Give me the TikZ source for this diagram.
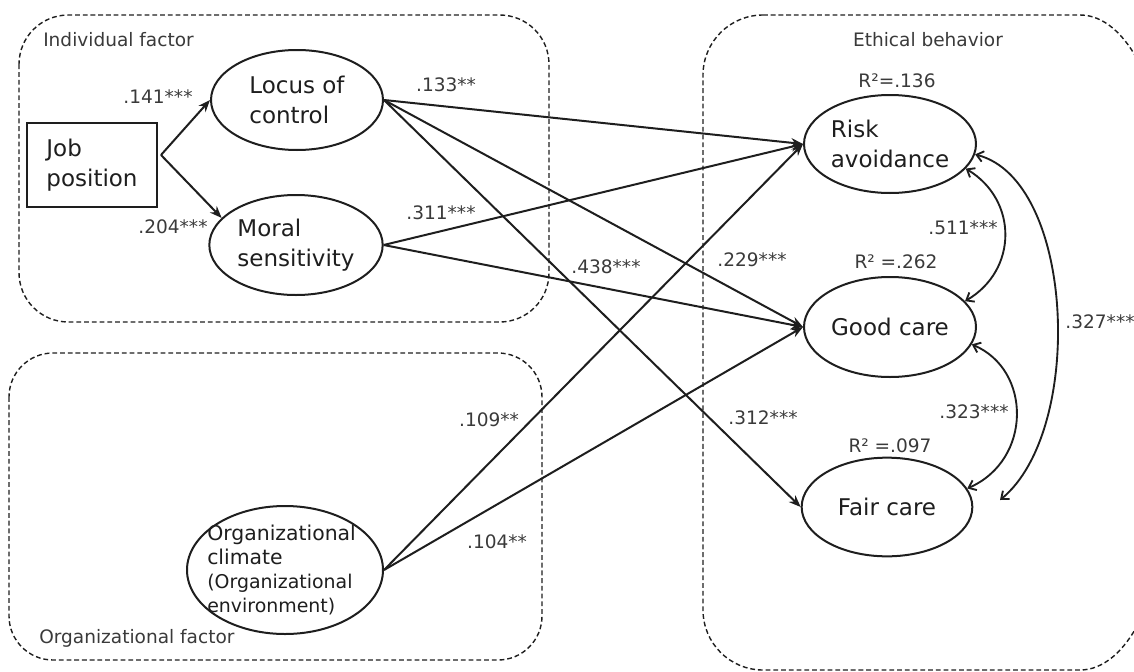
\documentclass[tikz,border=0pt]{standalone}
\usepackage{fontspec}
\setmainfont{DejaVu Sans}
\usetikzlibrary{arrows.meta,shapes.geometric,calc}
\definecolor{lab}{HTML}{3A3A3A}
\definecolor{ink}{HTML}{1E1E1E}
\begin{document}
\begin{tikzpicture}[x=0.75pt,y=-0.75pt,
  grp/.style={draw=ink, line width=1.05pt, dash pattern=on 3.6pt off 2.2pt},
  ell/.style={draw=ink, line width=1.5pt, ellipse, inner sep=0pt, align=left,
    text=ink, font=\fontsize{17.25}{22.5}\selectfont},
  boxnode/.style={draw=ink, line width=1.5pt, rectangle, inner sep=0pt, align=left,
    text=ink, font=\fontsize{17.25}{22.5}\selectfont},
  num/.style={text=lab, inner sep=0pt, font=\fontsize{13.9}{16}\selectfont},
  grplab/.style={text=lab, inner sep=0pt, font=\fontsize{13.9}{16}\selectfont},
  path/.style={draw=ink, line width=1.5pt, -{Stealth[length=9pt,width=7pt]}},
  cov/.style={draw=ink, line width=1.4pt, {Straight Barb[length=5pt,width=8pt]}-{Straight Barb[length=5pt,width=8pt]}}
]
\useasboundingbox (0,0) rectangle (1134,671);

% group frames
\draw[grp, rounded corners=37pt] (19,15) rectangle (549,322);
\draw[grp, rounded corners=33pt] (9,353) rectangle (542,660);
\draw[grp] (763,15) -- (1080,15)
  arc[start angle=90, end angle=0, x radius=63.75pt, y radius=127.5pt]
  -- (1165,500)
  arc[start angle=0, end angle=-90, x radius=63.75pt, y radius=127.5pt]
  -- (763,670)
  arc[start angle=270, end angle=180, radius=45pt]
  -- (703,75)
  arc[start angle=180, end angle=90, radius=45pt] -- cycle;

\node[grplab, anchor=west] (indlab) at (43,40) {Individual factor};
\node[grplab, anchor=west] (orglab) at (39,638) {Organizational factor};
\node[grplab] (ethlab) at (928,40) {Ethical behavior};

% nodes
\node[boxnode, minimum width=97.5pt, minimum height=63pt] (job) at (92,165) {Job\\position};
\node[ell, minimum width=129pt, minimum height=75pt] (locus) at (297,100) {Locus of\\control};
\node[ell, minimum width=130pt, minimum height=75pt] (moral) at (296,245) {Moral\\sensitivity};
\node[ell, minimum width=147pt, minimum height=96pt] (org) at (285,570) {};
\node[anchor=west, inner sep=0pt, align=left, text=ink, font=\fontsize{15.3}{18.2}\selectfont] (orgtext) at (207,570)
  {Organizational\\climate\\{\fontsize{14.2}{18.2}\selectfont (Organizational}\\{\fontsize{14.2}{18.2}\selectfont environment)}};
\node[ell, minimum width=129pt, minimum height=73.5pt] (risk) at (890,144) {Risk\\avoidance};
\node[ell, minimum width=129pt, minimum height=75pt] (good) at (890,327) {Good care};
\node[ell, minimum width=128pt, minimum height=74pt] (fair) at (887,507) {Fair care};

% R2 labels
\node[num] (r1) at (897,81) {R²=.136};
\node[num] (r2) at (896,262) {R² =.262};
\node[num] (r3) at (890,446) {R² =.097};

% paths
\coordinate (jobout) at ($(job.east)+(3,-10)$);
\draw[path] (jobout) -- (locus.west);
\draw[path] (jobout) -- (moral.160);
\draw[path] (locus.east) -- (risk.west);
\draw[path] (locus.east) -- (good.west);
\draw[path] (locus.east) -- (fair.west);
\draw[path] (moral.east) -- (risk.west);
\draw[path] (moral.east) -- (good.west);
\draw[path] (org.east) -- (risk.west);
\draw[path] (org.east) -- (good.west);

% covariances
\coordinate (fairR) at (1000,500);
\draw[cov] (risk.-18) .. controls (1018,200) and (1018,270) .. (good.19);
\draw[cov] (good.-12) .. controls (1032,370) and (1032,460) .. (fair.13);
\draw[cov] (risk.-7) .. controls (1075,180) and (1085,430) .. (fairR);

% coefficient labels
\node[num] (c1) at (158,97) {.141***};
\node[num] (c2) at (173,227) {.204***};
\node[num] (c3) at (446,85) {.133**};
\node[num] (c4) at (441,213) {.311***};
\node[num] (c5) at (606,267) {.438***};
\node[num] (c6) at (752,260) {.229***};
\node[num] (c7) at (963,228) {.511***};
\node[num] (c8) at (1100,322) {.327***};
\node[num] (c9) at (489,420) {.109**};
\node[num] (c10) at (497,542) {.104**};
\node[num] (c11) at (763,418) {.312***};
\node[num] (c12) at (974,412) {.323***};
\end{tikzpicture}
\end{document}
